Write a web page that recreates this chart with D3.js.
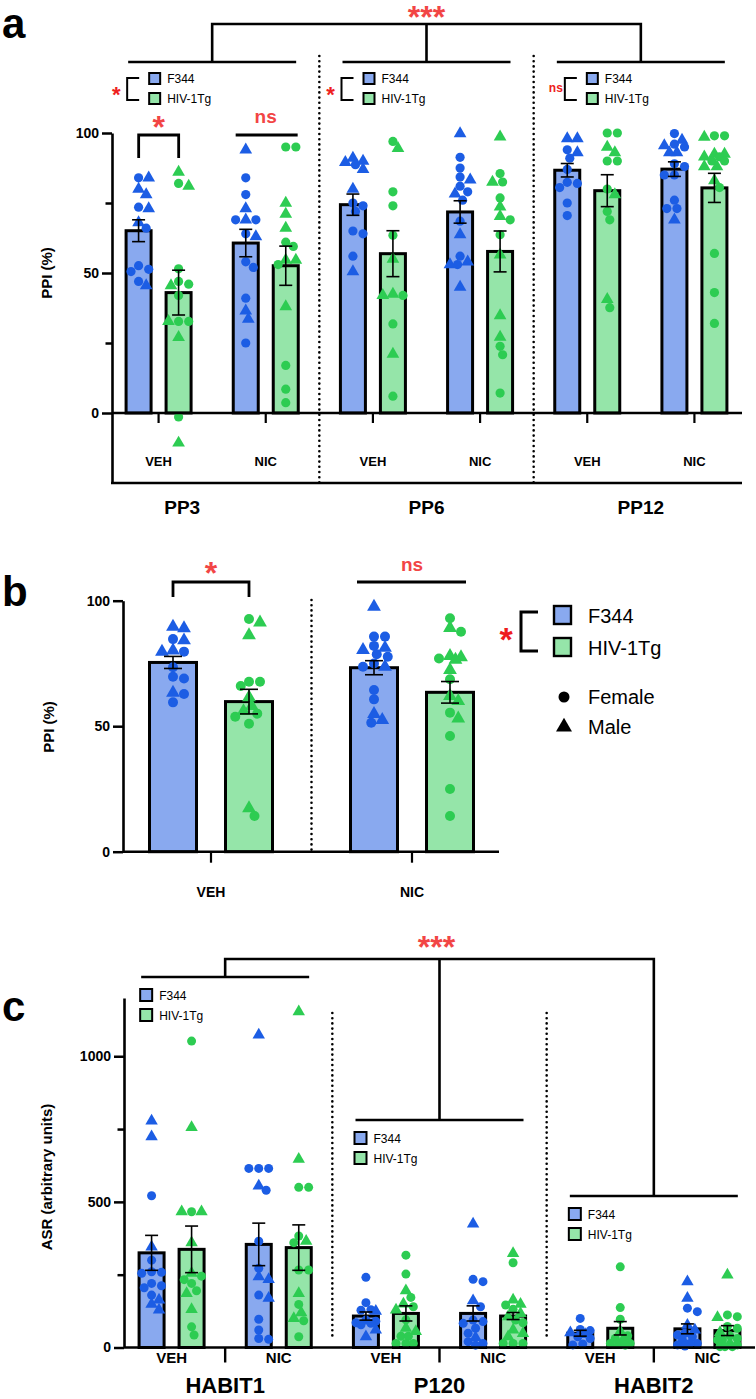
<!DOCTYPE html>
<html><head><meta charset="utf-8">
<script src="https://cdn.jsdelivr.net/npm/d3@7"></script>
<style>body{margin:0;background:#fff}svg{display:block}</style>
</head><body>
<script>
// ---------------- DATA ----------------
const F = "F", M = "M"; // F = female (circle), M = male (triangle)
const genotypes = ["F344", "HIV-1Tg"];
const treatments = ["VEH", "NIC"];
const prepulses = ["PP3", "PP6", "PP12"];
const asrPhases = ["HABIT1", "P120", "HABIT2"];
const yTicksPPI = [0, 25, 50, 75, 100];
const yLabelsPPI = [0, 50, 100];
const yTicksASR = [0, 250, 500, 750, 1000];
const yLabelsASR = [0, 500, 1000];

// order within each block: VEH-F344, VEH-HIV-1Tg, NIC-F344, NIC-HIV-1Tg
const ppiMeanPP3 = [65.1, 43.0, 60.7, 52.6];
const ppiMeanPP6 = [74.4, 56.9, 71.8, 57.7];
const ppiMeanPP12 = [86.7, 79.4, 87.1, 80.4];
const ppiSemPP3 = [3.9, 8.0, 4.9, 7.0];
const ppiSemPP6 = [3.8, 8.2, 4.0, 7.3];
const ppiSemPP12 = [2.4, 5.7, 2.6, 5.2];

const ppiPtsPP3 = [
  [[84,F],[84,M],[80,M],[78,M],[73,M],[73.5,F],[68,M],[66,F],[52.6,F],[51.3,F],[50.5,F],[47,F],[45.5,M]],
  [[86,M],[82,F],[81,M],[51.5,F],[47,F],[46,F],[45.5,M],[42,F],[32.7,F],[32.7,F],[32.7,M],[27,M],[-1.4,F],[-10.7,M]],
  [[94,M],[84,F],[78,F],[73,M],[69,M],[69,F],[69,F],[64,F],[63,M],[54,F],[52,F],[41,F],[36.5,M],[33.5,M],[25,F]],
  [[95,F],[95,F],[75,M],[71,M],[66,M],[61,F],[59.5,F],[54.6,M],[54.6,M],[53,F],[38,M],[17,F],[8.5,F],[3.7,F]]
];
const ppiPtsPP6 = [
  [[91,M],[90,M],[89.5,M],[88.7,F],[87,M],[80,M],[75,F],[74,F],[72,F],[65,F],[64,F],[56,F],[50.5,M]],
  [[97,F],[94.5,M],[79,F],[74,F],[63.5,F],[55,M],[42.5,M],[42,F],[42,M],[31.8,F],[21,M],[6,F]],
  [[99.8,M],[91.3,F],[87.5,F],[84.3,F],[83.3,M],[81,F],[79,F],[78.3,M],[76,F],[68.5,F],[63.7,M],[56,F],[54,M],[53,F],[53,M],[45,M]],
  [[98.6,M],[85.5,F],[82.5,F],[82.5,M],[76.8,F],[73.6,M],[70.2,M],[69,F],[63.7,F],[56.5,M],[34.8,M],[27.1,M],[23.8,F],[20.8,F],[7.1,F]]
];
const ppiPtsPP12 = [
  [[98,M],[98,M],[94,F],[93,M],[91,F],[87,F],[82.4,F],[82,F],[80.5,F],[75,F],[70.5,F]],
  [[100,F],[100,F],[95,M],[93,M],[90,F],[90,F],[80,F],[78,M],[72,F],[69,F],[40.6,M],[37.6,F]],
  [[99.8,F],[97.5,M],[96,F],[95.5,M],[95,F],[93,M],[93,M],[89,F],[88,F],[85,F],[85,F],[76,F],[73,F],[73,F],[69,M]],
  [[99,F],[99,F],[98.5,M],[92.5,M],[92.5,M],[91.5,M],[91.5,F],[90,F],[90,F],[88,M],[88,M],[83,M],[80.5,F],[57,F],[43,F],[32,F]]
];

// panel b: average PPI
const ppiAvgMean = [75.4, 59.8, 73.3, 63.5];
const ppiAvgSem = [2.4, 4.9, 2.8, 4.3];
const ppiAvgPts = [
  [[89.6,M],[89,M],[84.7,F],[84.2,M],[80.2,M],[79.7,F],[79.7,M],[73.5,F],[69.7,F],[69,F],[63.3,M],[62.8,F],[59.5,F]],
  [[92.7,F],[91.3,M],[86.2,M],[67.7,F],[67.7,F],[66,F],[61.5,M],[58,M],[56,M],[55,F],[53.8,F],[51,F],[17.3,M],[14.2,F]],
  [[97.6,M],[85.7,F],[85.7,F],[82,F],[81.2,M],[80.4,M],[78.7,F],[77.7,F],[75,F],[73.7,M],[73.7,F],[64.4,F],[60.7,F],[54.9,M],[52.5,M],[51.4,F]],
  [[93,F],[87.6,F],[89.1,M],[78,M],[77.5,M],[77,F],[76.5,M],[72.4,M],[68.7,F],[62,M],[60,M],[55.4,F],[53.1,M],[46.1,F],[25,F],[14.2,F]]
];

// panel c: ASR
const asrMeanHABIT1 = [325, 337, 354, 343];
const asrMeanP120 = [108, 117, 117, 108];
const asrMeanHABIT2 = [49, 66, 64, 58];
const asrSemHABIT1 = [60, 80, 73, 78];
const asrSemP120 = [14, 26, 26, 12];
const asrSemHABIT2 = [10, 23, 17, 17];
const asrPtsHABIT1 = [
  [[778,M],[724,M],[521,F],[345,M],[300,F],[260,F],[258,F],[255,F],[220,F],[212,F],[205,F],[180,F],[163,M],[149,M],[129,M]],
  [[1052,F],[756,M],[466,F],[466,M],[466,M],[360,M],[255,M],[245,F],[233,F],[220,F],[195,F],[186,M],[131,M],[71,F],[43,F]],
  [[1073,M],[615,F],[615,F],[615,F],[555,M],[540,F],[365,F],[272,F],[243,M],[234,M],[180,F],[169,M],[97,F],[60,F],[31,F],[28,F]],
  [[1153,M],[647,M],[550,F],[550,F],[383,F],[365,M],[360,F],[266,F],[266,F],[186,M],[148,F],[120,M],[100,M],[92,F],[37,F]]
];
const asrPtsP120 = [
  [[241,F],[154,F],[130,F],[128,F],[125,M],[94,F],[90,F],[85,F],[83,F],[78,F],[60,M],[37,M]],
  [[317,F],[252,F],[195,M],[172,F],[150,M],[140,F],[129,M],[95,F],[66,M],[55,M],[39,F],[39,F],[14,F],[14,F],[14,F]],
  [[424,M],[234,F],[226,F],[161,M],[140,F],[94,F],[89,F],[83,F],[66,F],[49,F],[35,M],[20,F],[14,F],[8,F]],
  [[323,M],[291,F],[163,M],[149,M],[146,F],[131,F],[117,M],[106,M],[94,F],[85,F],[60,M],[48,M],[37,M],[14,F],[14,F],[14,F]]
];
const asrPtsHABIT2 = [
  [[100,F],[62,F],[58,F],[51,M],[45,M],[37,F],[31,F],[12,F],[9,F]],
  [[277,F],[137,F],[97,F],[55,M],[40,F],[31,F],[25,M],[14,F],[14,F],[10,M],[8,F]],
  [[226,M],[169,M],[135,F],[123,F],[77,M],[60,M],[49,F],[43,F],[37,F],[25,F],[14,F],[14,F],[9,F],[5,F]],
  [[249,M],[112,F],[106,F],[103,M],[72,F],[66,F],[52,M],[40,F],[31,F],[26,F],[26,F],[14,M],[9,F],[3,F],[3,F],[3,F]]
];

// ---------------- STYLE ----------------
const barFill = {"F344": "#89a9ef", "HIV-1Tg": "#95e5a9"};
const ptFill = {"F344": "#1c5de4", "HIV-1Tg": "#2dcc52"};
const RED = "#f24545";
const FONT = "'Liberation Sans', Arial, Helvetica, sans-serif";

const W = 756, H = 1399;
const svg = d3.select("body").append("svg").attr("width", W).attr("height", H)
  .style("font-family", FONT);

// ---------------- HELPERS ----------------
function swarm(pts, y, r, maxOff) {
  const nodes = pts.map(p => ({v: p[0], sex: p[1], py: y(p[0])}));
  const order = nodes.slice().sort((a, b) => a.py - b.py);
  const placed = [];
  const dmin = 2 * r * 0.92, step = r * 0.55;
  const kmax = 2 * Math.floor(maxOff / step);
  order.forEach(n => {
    let chosen = null, bestScore = -1, bestOff = 0;
    for (let k = 0; k <= kmax; k++) {
      const off = k === 0 ? 0 : (k % 2 ? 1 : -1) * Math.ceil(k / 2) * step;
      let minD = Infinity;
      placed.forEach(q => { const d = Math.hypot(q.dx - off, q.py - n.py); if (d < minD) minD = d; });
      if (minD >= dmin) { chosen = off; break; }
      if (minD > bestScore) { bestScore = minD; bestOff = off; }
    }
    n.dx = chosen === null ? bestOff : chosen;
    placed.push(n);
  });
  return nodes;
}

function drawBar(g, cx, geno, mean, sem, pts, y, o) {
  g.append("rect")
    .attr("x", cx - o.barW / 2).attr("y", y(mean))
    .attr("width", o.barW).attr("height", y(0) - y(mean))
    .attr("fill", barFill[geno]).attr("stroke", "#000").attr("stroke-width", 3);
  const nodes = swarm(pts, y, o.r, o.spread);
  const circArea = Math.PI * o.r * o.r;
  g.selectAll(null).data(nodes).enter().append("path")
    .attr("transform", d => `translate(${cx + d.dx},${d.py})`)
    .attr("d", d => d3.symbol(d.sex === F ? d3.symbolCircle : d3.symbolTriangle,
                              d.sex === F ? circArea : circArea * 1.05)())
    .attr("fill", ptFill[geno]);
  const e = g.append("g").attr("stroke", "#000").attr("stroke-width", 1.6);
  e.append("line").attr("x1", cx).attr("x2", cx).attr("y1", y(mean - sem)).attr("y2", y(mean + sem));
  [mean - sem, mean + sem].forEach(v =>
    e.append("line").attr("x1", cx - o.cap / 2).attr("x2", cx + o.cap / 2).attr("y1", y(v)).attr("y2", y(v)));
}

function star(x, cy, fs, txt, col) {
  svg.append("text").attr("x", x).attr("y", cy + 0.57 * fs).attr("text-anchor", "middle")
    .attr("font-size", fs).attr("font-weight", "bold").attr("fill", col || RED).text(txt);
}
function nsText(x, cy, fs, col) {
  svg.append("text").attr("x", x).attr("y", cy + 0.26 * fs).attr("text-anchor", "middle")
    .attr("font-size", fs).attr("font-weight", "bold").attr("fill", col || RED).text("ns");
}
function txt(x, y, s, fs, weight, anchor) {
  return svg.append("text").attr("x", x).attr("y", y).attr("font-size", fs)
    .attr("font-weight", weight || "normal").attr("text-anchor", anchor || "start").text(s);
}
function pathLine(d, w) {
  svg.append("path").attr("d", d).attr("fill", "none").attr("stroke", "#000").attr("stroke-width", w || 2.5);
}
function dotted(x, y1, y2) {
  svg.append("line").attr("x1", x).attr("x2", x).attr("y1", y1).attr("y2", y2)
    .attr("stroke", "#000").attr("stroke-width", 2.6).attr("stroke-linecap", "round")
    .attr("stroke-dasharray", "0,5.2");
}
function yAxis(y, x, major, labels, tickLen) {
  const g = svg.append("g").attr("transform", `translate(${x},0)`);
  g.call(d3.axisLeft(y).tickValues(major).tickFormat(d => labels.includes(d) ? d : "")
    .tickSize(tickLen).tickSizeOuter(0).tickPadding(3));
  g.selectAll("text").attr("font-size", 14).attr("font-weight", "bold").attr("font-family", FONT).attr("fill", "#000");
  g.selectAll(".tick line").attr("stroke-width", 2.5).attr("stroke", "#000")
    .attr("x2", d => labels.includes(d) ? -tickLen : -tickLen * 0.65);
  g.select(".domain").attr("stroke-width", 2.6).attr("stroke", "#000");
  return g;
}
function legendSmall(x, yTop, sq) {
  genotypes.forEach((gname, i) => {
    svg.append("rect").attr("x", x).attr("y", yTop + i * 20).attr("width", sq).attr("height", sq)
      .attr("fill", barFill[gname]).attr("stroke", "#000").attr("stroke-width", 2);
    txt(x + sq + 7, yTop + i * 20 + sq - 1, gname, 12, "normal");
  });
}

// ---------------- PANEL A ----------------
const xA = d3.scaleBand().domain(prepulses).range([105, 748]);
const xT = d3.scaleBand().domain(treatments).range([0, xA.bandwidth()]);
const xG = d3.scalePoint().domain(genotypes).range([-20, 20]);
const yA = d3.scaleLinear().domain([-25, 100]).range([483, 133]);
const ppMeans = [ppiMeanPP3, ppiMeanPP6, ppiMeanPP12];
const ppSems = [ppiSemPP3, ppiSemPP6, ppiSemPP12];
const ppPts = [ppiPtsPP3, ppiPtsPP6, ppiPtsPP12];
const oA = {barW: 25, r: 4.6, spread: 11, cap: 13};

const gA = svg.append("g");
prepulses.forEach((pp, k) => {
  [0, 1, 2, 3].forEach(i => {
    const t = treatments[i >> 1], ge = genotypes[i & 1];
    const cx = xA(pp) + xT(t) + xT.bandwidth() / 2 + xG(ge);
    drawBar(gA, cx, ge, ppMeans[k][i], ppSems[k][i], ppPts[k][i], yA, oA);
  });
});
yAxis(yA, 112, yTicksPPI, yLabelsPPI, 10);
pathLine(`M112,${yA(0)}H742`, 2.6);
prepulses.forEach(pp => treatments.forEach(t => {
  const cx = xA(pp) + xT(t) + xT.bandwidth() / 2;
  pathLine(`M${cx},${yA(0)}v10`, 2.2);
  txt(cx, 466, t, 13, "bold", "middle");
}));
pathLine(`M111,${yA(-25)}H742`, 2.6);
const ppLabelShift = [-30, 0, 0];
prepulses.forEach((pp, k) => txt(xA(pp) + xA.bandwidth() / 2 + ppLabelShift[k], 514, pp, 19, "bold", "middle"));
dotted(xA("PP6"), 56, 485); dotted(xA("PP12"), 56, 485);
const cA = prepulses.map(pp => xA(pp) + xA.bandwidth() / 2);
cA.forEach(c => pathLine(`M${c - 84},62H${c + 84}`, 2.6));
pathLine(`M${cA[0]},62V24H${cA[2]}V62M${cA[1]},24V62`, 2.6);
star(cA[1], 10, 32, "***");
const legSig = ["*", "*", "ns"];
const legShift = [0, 0, 9];
cA.forEach((c, k) => {
  const lx = c - 63 + legShift[k];
  pathLine(`M${lx - 10},78H${lx - 22}V100H${lx - 10}`, 2);
  if (legSig[k] === "ns") nsText(lx - 31, 89, 12, "#ee2020"); else star(lx - 33, 89, 22, "*", "#ee2020");
  legendSmall(lx, 73, 11);
});
const vF = cA[0] - 53.5 - 20, vH = cA[0] - 53.5 + 20, nF = cA[0] + 53.5 - 20, nH = cA[0] + 53.5 + 20;
pathLine(`M${vF},158V135H${vH}V158`, 2.8);
star((vF + vH) / 2, 120, 32, "*");
pathLine(`M${nF - 10},135H${nH + 12}`, 2.8);
nsText((nF + nH) / 2, 118, 19);
txt(2, 38, "a", 42, "bold");
svg.append("text").attr("transform", `translate(52,273) rotate(-90)`).attr("text-anchor", "middle")
  .attr("font-size", 15).attr("font-weight", "bold").text("PPI (%)");

// ---------------- PANEL B ----------------
const xB = d3.scaleBand().domain(treatments).range([110.5, 512.5]);
const xGb = d3.scalePoint().domain(genotypes).range([-38, 38]);
const yB = d3.scaleLinear().domain([0, 100]).range([851.7, 600.7]);
const oB = {barW: 47, r: 5, spread: 17, cap: 18};
const gB = svg.append("g");
[0, 1, 2, 3].forEach(i => {
  const t = treatments[i >> 1], ge = genotypes[i & 1];
  const cx = xB(t) + xB.bandwidth() / 2 + xGb(ge);
  drawBar(gB, cx, ge, ppiAvgMean[i], ppiAvgSem[i], ppiAvgPts[i], yB, oB);
});
yAxis(yB, 123, [0, 50, 100], [0, 50, 100], 10);
pathLine(`M123,${yB(0)}H499`, 2.6);
treatments.forEach(t => {
  const cx = xB(t) + xB.bandwidth() / 2;
  pathLine(`M${cx},${yB(0)}v11`, 2.2);
  txt(cx, 897, t, 14, "bold", "middle");
});
dotted(xB("NIC"), 600, 850);
const bV = xB("VEH") + xB.bandwidth() / 2, bN = xB("NIC") + xB.bandwidth() / 2;
pathLine(`M${bV - 38},597V582H${bV + 38}V597`, 2.8);
star(bV, 566, 32, "*");
pathLine(`M${bN - 55},582H${bN + 54}`, 2.8);
nsText(bN, 566, 19);
pathLine(`M538,612H521V651H538`, 3);
star(506, 632, 34, "*", "#ee1c1c");
genotypes.forEach((gname, i) => {
  svg.append("rect").attr("x", 554).attr("y", 606 + i * 32).attr("width", 17).attr("height", 18)
    .attr("fill", barFill[gname]).attr("stroke", "#000").attr("stroke-width", 2.4);
  txt(588, 623 + i * 32, gname, 20, "normal");
});
svg.append("circle").attr("cx", 564).attr("cy", 697).attr("r", 5.5).attr("fill", "#000");
svg.append("path").attr("transform", "translate(564,727)").attr("d", d3.symbol(d3.symbolTriangle, 110)()).attr("fill", "#000");
txt(588, 704, "Female", 20, "normal");
txt(588, 734, "Male", 20, "normal");
txt(2, 606, "b", 42, "bold");
svg.append("text").attr("transform", `translate(54,727) rotate(-90)`).attr("text-anchor", "middle")
  .attr("font-size", 15).attr("font-weight", "bold").text("PPI (%)");

// ---------------- PANEL C ----------------
const xC = d3.scaleBand().domain(asrPhases).range([118, 761]);
const xTc = d3.scaleBand().domain(treatments).range([0, xC.bandwidth()]);
const yC = d3.scaleLinear().domain([0, 1200]).range([1347.5, 998]);
const asrMeans = [asrMeanHABIT1, asrMeanP120, asrMeanHABIT2];
const asrSems = [asrSemHABIT1, asrSemP120, asrSemHABIT2];
const asrPts = [asrPtsHABIT1, asrPtsP120, asrPtsHABIT2];
const oC = {barW: 25, r: 4.5, spread: 11, cap: 13};
const gC = svg.append("g");
asrPhases.forEach((ph, k) => {
  [0, 1, 2, 3].forEach(i => {
    const t = treatments[i >> 1], ge = genotypes[i & 1];
    const cx = xC(ph) + xTc(t) + xTc.bandwidth() / 2 + xG(ge);
    drawBar(gC, cx, ge, asrMeans[k][i], asrSems[k][i], asrPts[k][i], yC, oC);
  });
});
yAxis(yC, 124, yTicksASR, yLabelsASR, 10);
pathLine(`M124,${yC(0)}H755`, 2.6);
const cC = asrPhases.map(ph => xC(ph) + xC.bandwidth() / 2);
asrPhases.forEach((ph, k) => {
  pathLine(`M${cC[k]},${yC(0)}v15`, 2.4);
  treatments.forEach(t => txt(xC(ph) + xTc(t) + xTc.bandwidth() / 2, 1363, t, 15, "bold", "middle"));
  txt(cC[k], 1393, ph, 22, "bold", "middle");
});
dotted(xC("P120"), 1013, 1340); dotted(xC("HABIT2"), 1013, 1340);
const lineY = [977, 1120, 1196];
cC.forEach((c, k) => {
  pathLine(`M${c - 84},${lineY[k]}H${c + 84}`, 2.6);
  legendSmall(c - 85, lineY[k] + 12, 12);
});
pathLine(`M${cC[0]},${lineY[0]}V959H${cC[2]}V${lineY[2]}M${cC[1]},959V${lineY[1]}`, 2.6);
star(cC[1] - 3, 940, 32, "***");
txt(2, 1021, "c", 42, "bold");
svg.append("text").attr("transform", `translate(52,1177) rotate(-90)`).attr("text-anchor", "middle")
  .attr("font-size", 15).attr("font-weight", "bold").text("ASR (arbitrary units)");
</script>
</body></html>
